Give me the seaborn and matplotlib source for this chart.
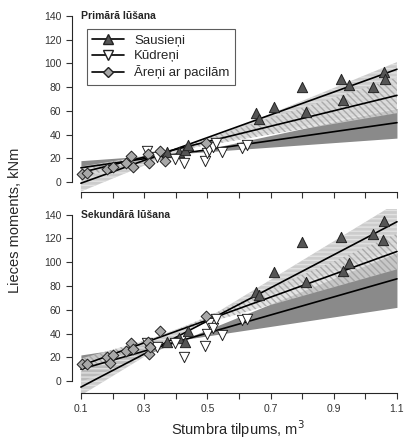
import numpy as np
import pandas as pd
import matplotlib
matplotlib.use("Agg")
import matplotlib.pyplot as plt
import seaborn as sns
from matplotlib.lines import Line2D

groups = ["Sausieņi", "Kūdreņi", "Āreņi ar pacilām"]
x_ends = [0.1, 1.1]

# Primārā lūšana
p_sau_x = [0.373, 0.411, 0.429, 0.44, 0.654, 0.664, 0.711, 0.80, 0.812, 0.923, 0.93, 0.947, 1.025, 1.058, 1.062]
p_sau_y = [25, 25.3, 27, 31, 58, 53, 63, 80, 59, 87, 69, 81.5, 80, 93, 86.6]
p_kud_x = [0.308, 0.34, 0.397, 0.425, 0.492, 0.50, 0.505, 0.518, 0.529, 0.547, 0.61, 0.626]
p_kud_y = [26, 21, 19.7, 16.3, 17.7, 24.7, 27, 29.8, 33, 25.5, 29, 31]
p_are_x = [0.103, 0.118, 0.184, 0.20, 0.243, 0.26, 0.264, 0.313, 0.316, 0.35, 0.366, 0.495]
p_are_y = [6.7, 7.9, 10.7, 12.4, 15.7, 21.9, 12.9, 23.3, 15.7, 26.4, 17.7, 33]
# regression lines: value at x=0.1 and x=1.1
p_lines = [[-1, 95], [12, 50], [8, 73]]
# band edges: two straight edges, values at x=0.1 and x=1.1
p_bands = [[[-8, 101], [12, 62]], [[18, 37], [5, 62]], [[3, 88], [13, 58]]]

# Sekundārā lūšana
s_sau_x = [0.373, 0.411, 0.429, 0.44, 0.654, 0.664, 0.711, 0.80, 0.812, 0.923, 0.93, 0.947, 1.025, 1.058, 1.057]
s_sau_y = [33, 36, 33, 42, 75, 72, 92, 117, 83, 121, 93, 99, 124, 135, 118.5]
s_kud_x = [0.308, 0.34, 0.397, 0.425, 0.492, 0.50, 0.505, 0.518, 0.529, 0.547, 0.61, 0.626]
s_kud_y = [31.7, 28.8, 31.7, 20.5, 29.7, 40, 49, 44.3, 52, 38.7, 51.3, 52]
s_are_x = [0.103, 0.118, 0.184, 0.192, 0.20, 0.243, 0.26, 0.264, 0.313, 0.316, 0.318, 0.35, 0.495]
s_are_y = [14.3, 14.8, 20.4, 15.4, 21.8, 25.5, 32.2, 26.9, 33, 22.7, 28.8, 42.3, 54.6]
s_lines = [[-5, 134], [10, 86], [13, 109]]
s_bands = [[[-12, 150], [14, 112]], [[22, 62], [0, 108]], [[8, 124], [19, 94]]]

colors = {"Sausieņi": "#555555", "Kūdreņi": "white", "Āreņi ar pacilām": "#a8a8a8"}
markers = {"Sausieņi": "^", "Kūdreņi": "v", "Āreņi ar pacilām": "D"}
msize = {"Sausieņi": 55, "Kūdreņi": 55, "Āreņi ar pacilām": 30}

sns.set_style("ticks")
plt.rcParams["font.family"] = ["Liberation Sans", "DejaVu Sans"]


def make_df(xs, ys):
    frames = []
    for g, x, y in zip(groups, xs, ys):
        frames.append(pd.DataFrame({"tilpums": x, "moments": y, "grupa": g}))
    return pd.concat(frames, ignore_index=True)


def draw_panel(ax, df, lines, bands, title, ylim):
    xx = np.array(x_ends)
    sau_band, kud_band, are_band = bands
    # Kudreni band (dark)
    ax.fill_between(xx, kud_band[0], kud_band[1], color="#7d7d7d", lw=0, alpha=0.9, zorder=1)
    # Sausieni band (light, horizontal streaks)
    ax.fill_between(xx, sau_band[0], sau_band[1], facecolor="#c4c4c4", edgecolor="#e6e6e6",
                    hatch="----", lw=0, alpha=0.85, zorder=2)
    # Areni band (fine diagonal hatch)
    ax.fill_between(xx, are_band[0], are_band[1], facecolor="#dcdcdc", edgecolor="#9a9a9a",
                    hatch="\\\\\\\\\\", lw=0, alpha=0.75, zorder=3)
    for ends in lines:
        ax.plot(xx, ends, color="black", lw=1.2, zorder=4)
    for g in groups:
        sns.scatterplot(data=df[df["grupa"] == g], x="tilpums", y="moments",
                        color=colors[g], marker=markers[g], s=msize[g], edgecolor="#222222",
                        linewidth=0.7, legend=False, ax=ax, zorder=5)
    ax.set_xlim(0.0715, 1.1095)
    ax.set_ylim(*ylim)
    ax.set_xticks(np.arange(0.1, 1.11, 0.1))
    ax.set_yticks(range(0, 141, 20))
    ax.spines["top"].set_visible(False)
    ax.spines["right"].set_visible(False)
    ax.spines["left"].set_bounds(0, 140)
    ax.spines["bottom"].set_bounds(0.1, 1.1)
    ax.tick_params(direction="out", length=4, width=0.8, labelsize=7.5, colors="#333333")
    ax.set_xlabel("")
    ax.set_ylabel("")
    ax.text(0.1, 140, title, fontsize=7.5, fontweight="bold", va="center", ha="left")


fig = plt.figure(figsize=(4.04, 4.41), dpi=100, facecolor="white")
ax1 = fig.add_axes([0.178, 0.5646, 0.812, 0.413])
ax2 = fig.add_axes([0.178, 0.1088, 0.812, 0.418])

df_p = make_df([p_sau_x, p_kud_x, p_are_x], [p_sau_y, p_kud_y, p_are_y])
df_s = make_df([s_sau_x, s_kud_x, s_are_x], [s_sau_y, s_kud_y, s_are_y])

draw_panel(ax1, df_p, p_lines, p_bands, "Primārā lūšana", (-8.4, 145))
draw_panel(ax2, df_s, s_lines, s_bands, "Sekundārā lūšana", (-10, 145))

ax1.tick_params(axis="x", labelbottom=False)
ax2.set_xticks(np.arange(0.1, 1.11, 0.1))
ax2.set_xticklabels([f"{v:.1f}" if i % 2 == 0 else "" for i, v in enumerate(np.arange(0.1, 1.11, 0.1))])
ax2.tick_params(axis="x", pad=4)

handles = [Line2D([0], [0], color="black", lw=1.2, marker=markers[g],
                  markersize=7 if g != "Āreņi ar pacilām" else 5.5,
                  markerfacecolor=colors[g], markeredgecolor="#222222") for g in groups]
leg = ax1.legend(handles, groups, loc="upper left", bbox_to_anchor=(0.025, 0.93),
                 fontsize=9.5, frameon=True, fancybox=False, handlelength=2.4,
                 borderpad=0.4, labelspacing=0.25, handletextpad=0.8)
leg.get_frame().set_edgecolor("#333333")
leg.get_frame().set_linewidth(0.8)

fig.text(0.037, 0.5, "Lieces moments, kNm", rotation=90, va="center", ha="center", fontsize=10.5)
fig.text(0.59, 0.026, "Stumbra tilpums, m$^3$", va="center", ha="center", fontsize=10.5)

fig.savefig("out.png", dpi=100, facecolor="white")
